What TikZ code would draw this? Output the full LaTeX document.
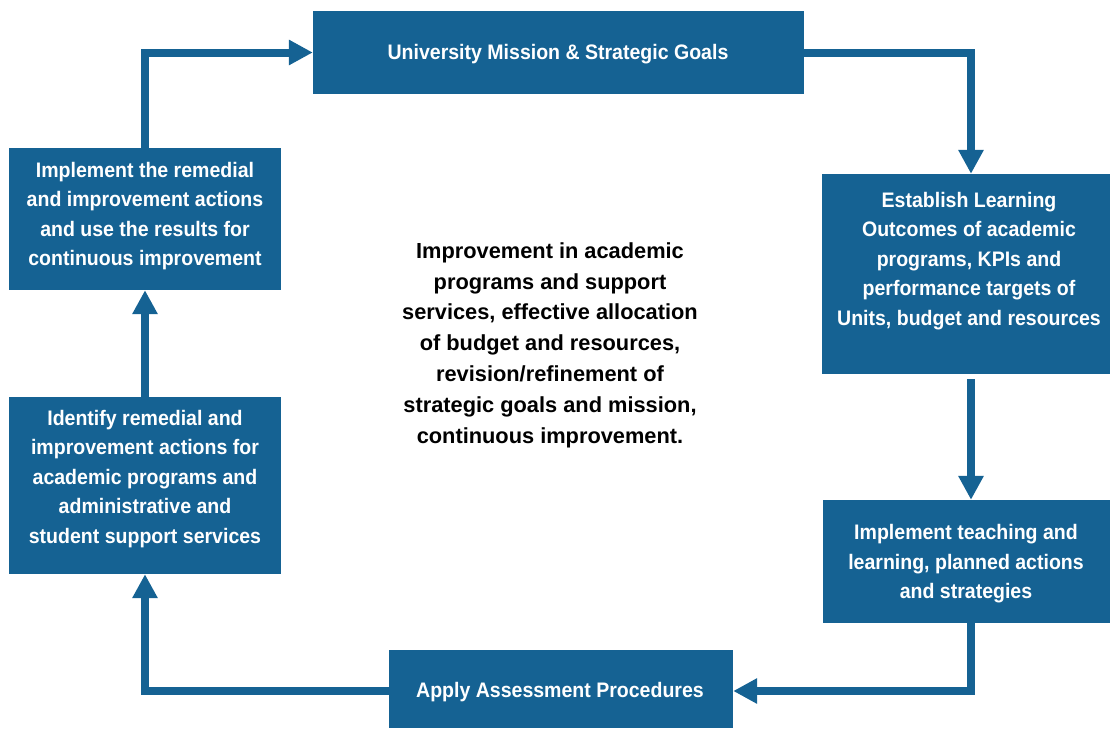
\documentclass[tikz,border=0pt]{standalone}
\usepackage{fontspec}
\setmainfont{Liberation Sans}
\newfontfamily\boxfont{Liberation Sans}[FakeStretch=0.93]
\usetikzlibrary{arrows.meta}
\definecolor{boxblue}{RGB}{21,98,147}
\begin{document}
\begin{tikzpicture}[x=1pt,y=-1pt,
  box/.style={fill=boxblue, draw=none, inner sep=0pt},
  boxtext/.style={text=white, font=\boxfont\bfseries\fontsize{21}{29.5}\selectfont, align=center, inner sep=0pt},
  midtext/.style={text=black, font=\bfseries\fontsize{21.8}{30.8}\selectfont, align=center, inner sep=0pt},
  flow/.style={draw=boxblue, line width=8pt, -{Triangle[length=24pt,width=24pt]}}]
\useasboundingbox (0,0) rectangle (1110,729);
% boxes
\node[box, minimum width=491pt, minimum height=83pt] (b1) at (558.5,52.5) {};
\node[box, minimum width=288pt, minimum height=200pt] (b2) at (966,274) {};
\node[box, minimum width=287pt, minimum height=123pt] (b3) at (966.5,561.5) {};
\node[box, minimum width=344pt, minimum height=78pt] (b4) at (561,689) {};
\node[box, minimum width=272pt, minimum height=177pt] (b5) at (145,485.5) {};
\node[box, minimum width=272pt, minimum height=142pt] (b6) at (145,219) {};
% texts
\node[boxtext] (t1) at (558,54) {University Mission \& Strategic Goals};
\node[boxtext] (t2) at (969,261) {Establish Learning\\Outcomes of academic\\programs, KPIs and\\performance targets of\\Units, budget and resources};
\node[boxtext] (t3) at (966,564) {Implement teaching and\\learning, planned actions\\and strategies};
\node[boxtext] (t4) at (560,692) {Apply Assessment Procedures};
\node[boxtext] (t5) at (145,479) {Identify remedial and\\improvement actions for\\academic programs and\\administrative and\\student support services};
\node[boxtext] (t6) at (145,216) {Implement the remedial\\and improvement actions\\and use the results for\\continuous improvement};
\node[midtext] (c) at (550,345) {Improvement in academic\\programs and support\\services, effective allocation\\of budget and resources,\\revision/refinement of\\strategic goals and mission,\\continuous improvement.};
% connectors
\draw[flow] (b6.north) |- (b1.west);
\draw[flow] (b1.east) -| ([xshift=5pt]b2.north);
\draw[flow, shorten <=5pt] ([xshift=5pt]b2.south) -- ([xshift=4.5pt]b3.north);
\draw[flow] ([xshift=4.5pt]b3.south) |- ([yshift=-2pt]b4.east);
\draw[flow] ([yshift=-2pt]b4.west) -| (b5.south);
\draw[flow] (b5.north) -- (b6.south);
\end{tikzpicture}
\end{document}
